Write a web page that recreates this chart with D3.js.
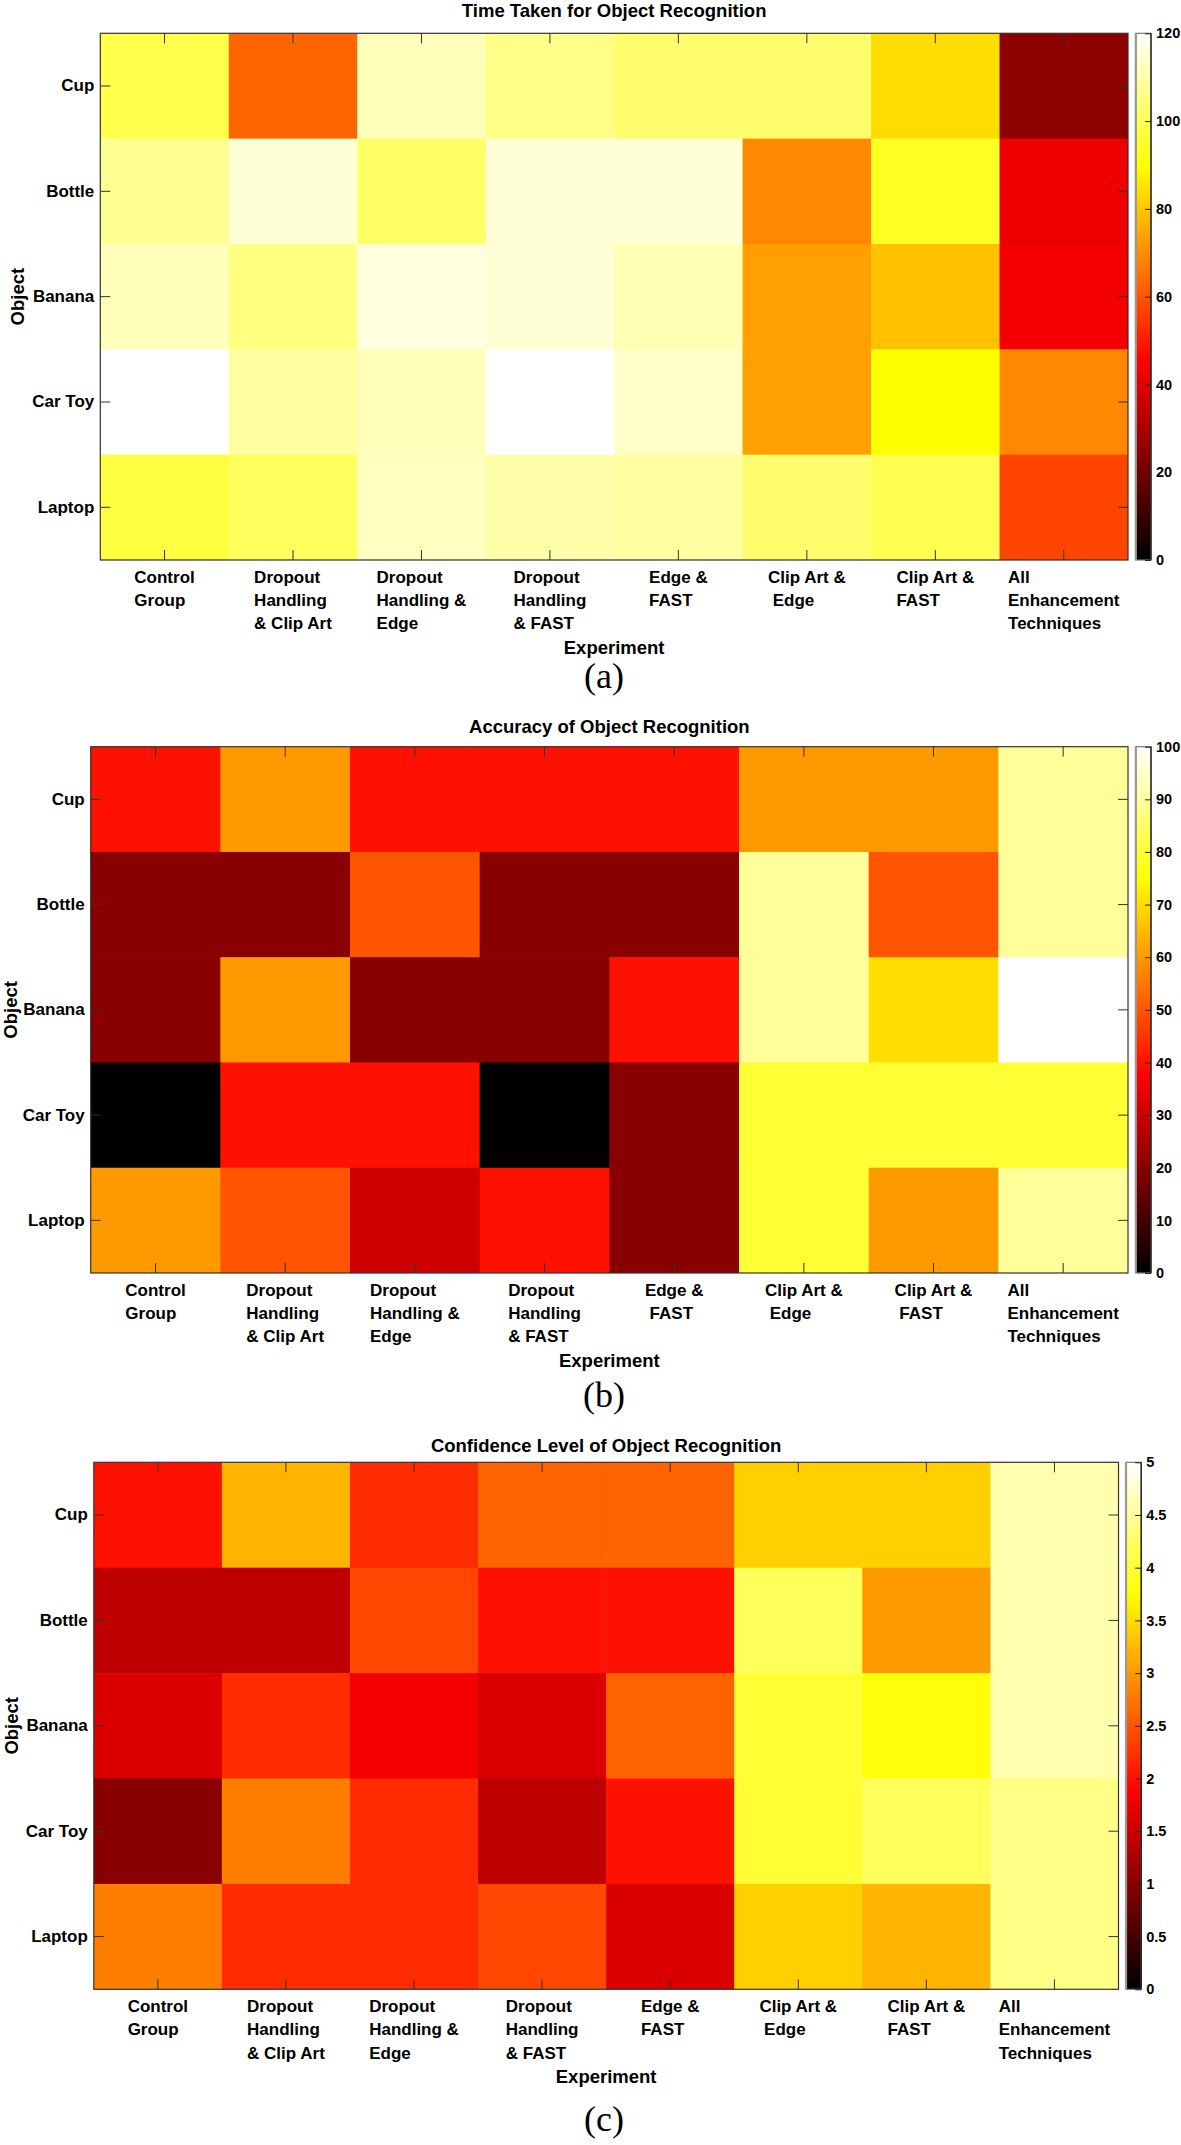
<!DOCTYPE html>
<html><head><meta charset="utf-8">
<script src="https://cdn.jsdelivr.net/npm/d3@7"></script>
<style>
body{margin:0;background:#fff;}
svg{display:block;}
text{font-family:"Liberation Sans",Arial,Helvetica,sans-serif;}
</style></head><body>
<svg id="chart" width="1181" height="2145"></svg>
<script>
// ---------- DATA ----------
const objects = ["Cup", "Bottle", "Banana", "Car Toy", "Laptop"];
const experiments = ["Control Group", "Dropout Handling & Clip Art", "Dropout Handling & Edge",
  "Dropout Handling & FAST", "Edge & FAST", "Clip Art & Edge", "Clip Art & FAST",
  "All Enhancement Techniques"];

// multi-line tick labels as printed in each panel
const tickLinesA = [["Control","Group"],["Dropout","Handling","& Clip Art"],["Dropout","Handling &","Edge"],
  ["Dropout","Handling","& FAST"],["Edge &","FAST"],["Clip Art &","\u00a0Edge"],["Clip Art &","FAST"],
  ["All","Enhancement","Techniques"]];
const tickLinesB = [["Control","Group"],["Dropout","Handling","& Clip Art"],["Dropout","Handling &","Edge"],
  ["Dropout","Handling","& FAST"],["Edge &","\u00a0FAST"],["Clip Art &","\u00a0Edge"],["Clip Art &","\u00a0FAST"],
  ["All","Enhancement","Techniques"]];
const tickLinesC = [["Control","Group"],["Dropout","Handling","& Clip Art"],["Dropout","Handling &","Edge"],
  ["Dropout","Handling","& FAST"],["Edge &","FAST"],["Clip Art &","\u00a0Edge"],["Clip Art &","FAST"],
  ["All","Enhancement","Techniques"]];

// rows = objects, columns = experiments
const timeTaken = [
  [99, 63, 112, 106, 103, 103, 84, 25],
  [107, 115, 102, 115, 115, 69, 94, 42],
  [112, 105, 116, 115, 111, 73, 79, 43],
  [120, 109, 112, 120, 113.5, 73, 90, 69],
  [97.5, 101, 112.5, 110, 109, 103, 99.5, 57]
];
const accuracy = [
  [40, 60, 40, 40, 40, 60, 60, 90],
  [20, 20, 50, 20, 20, 90, 50, 90],
  [20, 60, 20, 20, 40, 90, 70, 100],
  [0, 40, 40, 0, 20, 80, 80, 80],
  [60, 50, 30, 40, 20, 80, 60, 90]
];
const confidence = [
  [2.0, 3.2, 2.2, 2.6, 2.6, 3.4, 3.4, 4.6],
  [1.4, 1.4, 2.4, 2.0, 2.0, 4.2, 3.0, 4.6],
  [1.6, 2.2, 1.8, 1.6, 2.6, 4.0, 3.8, 4.6],
  [1.0, 2.8, 2.2, 1.4, 2.0, 4.0, 4.2, 4.4],
  [2.8, 2.2, 2.2, 2.4, 1.6, 3.4, 3.2, 4.4]
];
const timeTicks = [0, 20, 40, 60, 80, 100, 120];
const accuracyTicks = [0, 10, 20, 30, 40, 50, 60, 70, 80, 90, 100];
const confidenceTicks = [0, 0.5, 1, 1.5, 2, 2.5, 3, 3.5, 4, 4.5, 5];

const titles = ["Time Taken for Object Recognition", "Accuracy of Object Recognition",
  "Confidence Level of Object Recognition"];
const tags = ["(a)", "(b)", "(c)"];

// ---------- LAYOUT ----------
const panels = [
  {values: timeTaken, max: 120, ticks: timeTicks, lines: tickLinesA,
   x0: 100.3, y0: 33.3, x1: 1128, y1: 560, cbX: 1135.8, titleY: 16.8, objX: 17.2, tagY: 688},
  {values: accuracy, max: 100, ticks: accuracyTicks, lines: tickLinesB,
   x0: 90.7, y0: 746.7, x1: 1128, y1: 1273, cbX: 1135.8, titleY: 733.3, objX: 10.6, tagY: 1407},
  {values: confidence, max: 5, ticks: confidenceTicks, lines: tickLinesC,
   x0: 93.8, y0: 1462.3, x1: 1118.5, y1: 1989.3, cbX: 1126, titleY: 1451.7, objX: 11.5, tagY: 2131}
];

// MATLAB "hot" colormap
function hot(t) {
  const cl = v => Math.max(0, Math.min(1, v));
  const r = cl(t / 0.375), g = cl((t - 0.375) / 0.375), b = cl((t - 0.75) / 0.25);
  return d3.rgb(Math.round(r * 255), Math.round(g * 255), Math.round(b * 255)).toString();
}

const svg = d3.select("#chart");
const defs = svg.append("defs");
const grad = defs.append("linearGradient").attr("id", "hotGrad")
  .attr("x1", 0).attr("y1", 1).attr("x2", 0).attr("y2", 0);
[0, 0.375, 0.75, 1].forEach(o => grad.append("stop").attr("offset", o).attr("stop-color", hot(o)));

panels.forEach((p, pi) => {
  const g = svg.append("g");
  const x = d3.scaleBand().domain(experiments).range([p.x0, p.x1]);
  const y = d3.scaleBand().domain(objects).range([p.y0, p.y1]);
  const c = d3.scaleLinear().domain([0, p.max]).range([0, 1]).clamp(true);

  const cells = [];
  objects.forEach((o, i) => experiments.forEach((e, j) => cells.push({obj: o, exp: e, v: p.values[i][j]})));

  g.append("g").selectAll("rect").data(cells).join("rect")
    .attr("x", d => x(d.exp)).attr("y", d => y(d.obj))
    .attr("width", x.bandwidth() + 0.6).attr("height", y.bandwidth() + 0.6)
    .attr("fill", d => hot(c(d.v)));

  // clip overflow from the +0.6
  g.append("rect").attr("x", p.x1).attr("y", p.y0 - 1).attr("width", 6).attr("height", p.y1 - p.y0 + 2).attr("fill", "#fff");
  g.append("rect").attr("x", p.x0 - 1).attr("y", p.y1).attr("width", p.x1 - p.x0 + 2).attr("height", 1).attr("fill", "#fff");

  const styleAxis = sel => {
    sel.select(".domain").remove();
    sel.selectAll(".tick line").attr("stroke", "#333").attr("stroke-width", 1);
  };
  g.append("g").attr("transform", `translate(0,${p.y0})`)
    .call(d3.axisTop(x).tickSize(-10).tickFormat("")).call(styleAxis);
  g.append("g").attr("transform", `translate(0,${p.y1})`)
    .call(d3.axisBottom(x).tickSize(-10).tickFormat("")).call(styleAxis);
  g.append("g").attr("transform", `translate(${p.x1},0)`)
    .call(d3.axisRight(y).tickSize(-10).tickFormat("")).call(styleAxis);
  const yl = g.append("g").attr("transform", `translate(${p.x0},0)`)
    .call(d3.axisLeft(y).tickSize(-10).tickPadding(6)).call(styleAxis);
  yl.attr("font-family", null).attr("font-size", null);
  yl.selectAll(".tick text").attr("font-size", 17).attr("font-weight", "bold").attr("fill", "#000")
    .attr("font-family", '"Liberation Sans",Arial,sans-serif');

  g.append("rect").attr("x", p.x0).attr("y", p.y0).attr("width", p.x1 - p.x0).attr("height", p.y1 - p.y0)
    .attr("fill", "none").attr("stroke", "#333").attr("stroke-width", 1.2);

  // x tick labels: block centred on the tick, lines left aligned
  experiments.forEach((e, j) => {
    const t = g.append("text").attr("font-size", 17).attr("font-weight", "bold").attr("fill", "#000");
    const lines = p.lines[j];
    lines.forEach((ln, k) => t.append("tspan").attr("y", p.y1 + 22.7 + k * 23.3).text(ln));
    let w = 0;
    t.selectAll("tspan").each(function () { w = Math.max(w, this.getComputedTextLength()); });
    const cx = x(e) + x.bandwidth() / 2;
    t.selectAll("tspan").attr("x", cx - w / 2);
  });

  // titles and axis labels
  const cxPlot = (p.x0 + p.x1) / 2;
  g.append("text").attr("x", cxPlot).attr("y", p.titleY).attr("text-anchor", "middle")
    .attr("font-size", 18.5).attr("font-weight", "bold").text(titles[pi]);
  g.append("text").attr("x", cxPlot).attr("y", p.y1 + 93.5).attr("text-anchor", "middle")
    .attr("font-size", 18.5).attr("font-weight", "bold").text("Experiment");
  g.append("text").attr("transform", `translate(${p.objX},${(p.y0 + p.y1) / 2}) rotate(-90)`)
    .attr("dy", "0.35em").attr("text-anchor", "middle")
    .attr("font-size", 18.5).attr("font-weight", "bold").text("Object");

  // colorbar
  const cbW = 15.2;
  g.append("rect").attr("x", p.cbX).attr("y", p.y0).attr("width", cbW).attr("height", p.y1 - p.y0)
    .attr("fill", "url(#hotGrad)").attr("stroke", "#777").attr("stroke-width", 1.2);
  g.append("line").attr("x1", p.cbX).attr("x2", p.cbX).attr("y1", p.y0).attr("y2", p.y1)
    .attr("stroke", "#999").attr("stroke-width", 2.2);
  const cs = d3.scaleLinear().domain([0, p.max]).range([p.y1, p.y0]);
  const ca = g.append("g").attr("transform", `translate(${p.cbX + cbW},0)`)
    .call(d3.axisRight(cs).tickValues(p.ticks).tickSize(-6).tickPadding(5).tickFormat(d => String(d)));
  ca.attr("font-family", null).attr("font-size", null);
  ca.select(".domain").attr("stroke", "#111").attr("stroke-width", 1.2).attr("d", `M0,${p.y0}V${p.y1}`);
  ca.selectAll(".tick line").attr("stroke", "#222");
  ca.selectAll(".tick text").attr("font-size", 14.5).attr("font-weight", "bold").attr("fill", "#000")
    .attr("font-family", '"Liberation Sans",Arial,sans-serif');

  // panel tag
  g.append("text").attr("x", 604).attr("y", p.tagY).attr("text-anchor", "middle")
    .style("font-family", '"Liberation Serif","Times New Roman",serif')
    .attr("font-size", 36).text(tags[pi]);
});
</script>
</body></html>
